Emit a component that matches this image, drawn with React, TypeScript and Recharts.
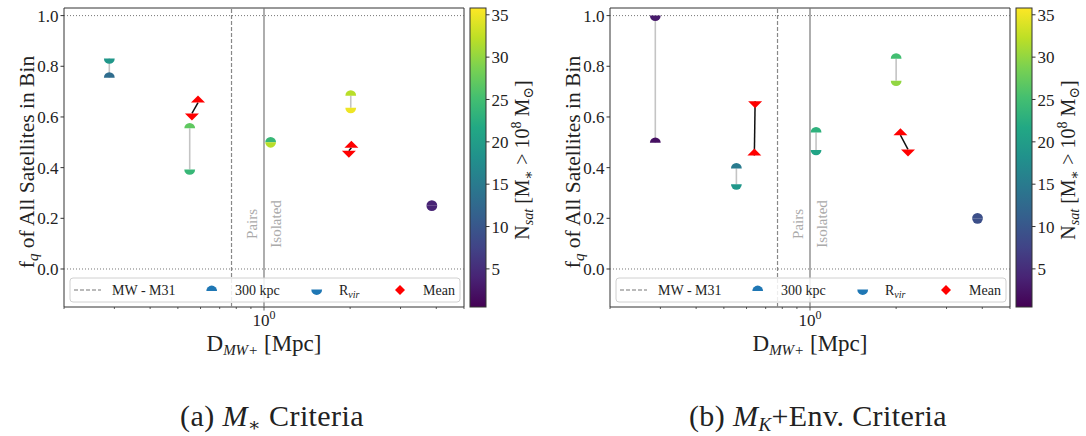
import React from 'react'
import {
  ScatterChart,
  Scatter,
  XAxis,
  YAxis,
  ReferenceLine,
  ReferenceArea,
  ReferenceDot,
} from 'recharts'

const FONT = '"Liberation Serif", "DejaVu Serif", serif'
const INK = '#222'

// (a) M* criteria: distance bins [Mpc] and quenched fractions per aperture
const distA = [0.288, 0.55, 1.055, 2.01, 3.86]
const fq300A = [0.755, 0.555, 0.5, 0.684, 0.25]
const nsat300A = [13, 27, 24, 32, 4]
const fqRvirA = [0.831, 0.393, 0.5, 0.636, 0.25]
const nsatRvirA = [19, 24, 32, 35, 4]
const meanDist300A = [0.588, 2.02]
const meanFq300A = [0.657, 0.478]
const meanDistRvirA = [0.56, 1.98]
const meanFqRvirA = [0.614, 0.467]

// (b) M_K + environment criteria
const distB = [0.288, 0.553, 1.05, 2.0, 3.85]
const fq300B = [0.498, 0.397, 0.539, 0.83, 0.2]
const nsat300B = [2, 15, 23, 25, 9]
const fqRvirB = [1.0, 0.334, 0.47, 0.743, 0.2]
const nsatRvirB = [3, 19, 21, 30, 9]
const meanDist300B = [0.639, 2.07]
const meanFq300B = [0.448, 0.528]
const meanDistRvirB = [0.643, 2.2]
const meanFqRvirB = [0.662, 0.472]

const MW_M31 = 0.77
const X_TICKS = [0.2, 0.3, 0.4, 0.5, 0.6, 0.7, 0.8, 0.9, 1, 2, 3, 4, 5]
const Y_TICKS = [0, 0.2, 0.4, 0.6, 0.8, 1.0]
const CBAR_TICKS = [5, 10, 15, 20, 25, 30, 35]
const N_MIN = 0.5
const N_MAX = 35.8

const VIRIDIS = [
  '#440154', '#482475', '#414487', '#355f8d', '#2a788e', '#21918c',
  '#22a884', '#44bf70', '#7ad151', '#bddf26', '#fde725',
]

function viridis(n: number) {
  const t = Math.min(1, Math.max(0, (n - N_MIN) / (N_MAX - N_MIN))) * 10
  const i = Math.min(9, Math.floor(t))
  const f = t - i
  const a = VIRIDIS[i]
  const b = VIRIDIS[i + 1]
  const ch = (h: string, k: number) => parseInt(h.slice(1 + 2 * k, 3 + 2 * k), 16)
  const mix = [0, 1, 2].map((k) => Math.round(ch(a, k) + (ch(b, k) - ch(a, k)) * f))
  return `rgb(${mix.join(',')})`
}

const R = 5.4
const D = 7

// filled top half of a circle (300 kpc)
const Dome = (p: any) => (
  <path
    d={`M${p.cx - R},${p.cy} A${R},${R} 0 0 1 ${p.cx + R},${p.cy} Z`}
    fill={p.fill ?? viridis(p.payload.n)}
  />
)

// filled bottom half of a circle (R_vir)
const Bowl = (p: any) => (
  <path
    d={`M${p.cx - R},${p.cy} A${R},${R} 0 0 0 ${p.cx + R},${p.cy} Z`}
    fill={p.fill ?? viridis(p.payload.n)}
  />
)

const HalfDiamondUp = (p: any) => (
  <path d={`M${p.cx - D},${p.cy} L${p.cx},${p.cy - D} L${p.cx + D},${p.cy} Z`} fill="#ff0000" />
)

const HalfDiamondDown = (p: any) => (
  <path d={`M${p.cx - D},${p.cy} L${p.cx},${p.cy + D} L${p.cx + D},${p.cy} Z`} fill="#ff0000" />
)

const LogTick = (p: any) => {
  const major = p.payload.value === 1
  return (
    <g>
      <line x1={p.x} x2={p.x} y1={p.y} y2={p.y + (major ? 3.5 : 2)} stroke="#333" strokeWidth={0.8} />
      {major && (
        <text x={p.x} y={p.y + 19} textAnchor="middle" fontSize={17} fill={INK} fontFamily={FONT}>
          10
          <tspan dy={-7} fontSize={12}>0</tspan>
        </text>
      )}
    </g>
  )
}

const RegionLabels = (p: any) => (
  <g fill="#aaa" fontSize={15} fontFamily={FONT}>
    <text x={p.cx - 7} y={p.cy} textAnchor="middle" transform={`rotate(-90 ${p.cx - 7} ${p.cy})`}>
      Pairs
    </text>
    <text x={p.cx + 17} y={p.cy} textAnchor="middle" transform={`rotate(-90 ${p.cx + 17} ${p.cy})`}>
      Isolated
    </text>
  </g>
)

const zip = (xs: number[], ys: number[], ns?: number[]) =>
  xs.map((x, i) => ({ x, y: ys[i], n: ns ? ns[i] : 0 }))

interface PanelProps {
  left: number
  dist: number[]
  fq300: number[]
  nsat300: number[]
  fqRvir: number[]
  nsatRvir: number[]
  meanDist300: number[]
  meanFq300: number[]
  meanDistRvir: number[]
  meanFqRvir: number[]
}

function FractionPanel(props: PanelProps) {
  const { left, dist, fq300, nsat300, fqRvir, nsatRvir } = props
  const pts300 = zip(dist, fq300, nsat300)
  const ptsRvir = zip(dist, fqRvir, nsatRvir)
  const mean300 = zip(props.meanDist300, props.meanFq300)
  const meanRvir = zip(props.meanDistRvir, props.meanFqRvir)

  return (
    <>
      <div style={{ position: 'absolute', left, top: 0 }}>
        <ScatterChart width={470} height={360} margin={{ top: 8, right: 6, bottom: 0, left: 0 }}>
          <XAxis
            type="number"
            dataKey="x"
            scale="log"
            domain={[0.2, 5]}
            allowDataOverflow
            ticks={X_TICKS}
            interval={0}
            tickSize={0}
            tickMargin={0}
            tickLine={false}
            axisLine={false}
            tick={<LogTick />}
            height={53}
          />
          <YAxis
            type="number"
            dataKey="y"
            domain={[-0.15, 1.03]}
            allowDataOverflow
            ticks={Y_TICKS}
            interval={0}
            tickFormatter={(v: number) => v.toFixed(1)}
            tickSize={3.5}
            tickMargin={2}
            width={64}
            axisLine={false}
            tickLine={{ stroke: '#333' }}
            tick={{ fontSize: 17, fill: INK, fontFamily: FONT }}
          />
          <ReferenceLine y={1} stroke="#666" strokeWidth={0.9} strokeDasharray="1 2" />
          <ReferenceLine y={0} stroke="#666" strokeWidth={0.9} strokeDasharray="1 2" />
          <ReferenceLine x={MW_M31} stroke="#888" strokeWidth={1.2} strokeDasharray="4 2" />
          <ReferenceLine x={1} stroke="#777" strokeWidth={1.2} />
          <ReferenceDot x={1} y={0.178} r={0} shape={RegionLabels} />
          {dist.map((x, i) => (
            <ReferenceLine
              key={`p${i}`}
              segment={[{ x, y: fq300[i] }, { x, y: fqRvir[i] }]}
              stroke="#c4c4c4"
              strokeWidth={1.6}
            />
          ))}
          {mean300.map((m, i) => (
            <ReferenceLine
              key={`m${i}`}
              segment={[{ x: m.x, y: m.y }, { x: meanRvir[i].x, y: meanRvir[i].y }]}
              stroke="#111"
              strokeWidth={1.5}
            />
          ))}
          <Scatter data={pts300} shape={Dome} isAnimationActive={false} />
          <Scatter data={ptsRvir} shape={Bowl} isAnimationActive={false} />
          <Scatter data={mean300} shape={HalfDiamondUp} isAnimationActive={false} />
          <Scatter data={meanRvir} shape={HalfDiamondDown} isAnimationActive={false} />
          <ReferenceArea x1={0.2} x2={5} y1={-0.15} y2={1.03} fill="none" stroke="#333" strokeWidth={1} />
        </ScatterChart>
      </div>

      {/* colour bar axis: N_sat ticks */}
      <div style={{ position: 'absolute', left: left + 470, top: 0 }}>
        <ScatterChart width={60} height={360} margin={{ top: 8, right: 0, bottom: 53, left: 0 }}>
          <XAxis type="number" dataKey="x" domain={[0, 1]} hide />
          <YAxis
            type="number"
            dataKey="y"
            orientation="right"
            domain={[N_MIN, N_MAX]}
            allowDataOverflow
            ticks={CBAR_TICKS}
            interval={0}
            tickSize={3.5}
            tickMargin={2}
            width={44}
            axisLine={false}
            tickLine={{ stroke: '#333' }}
            tick={{ fontSize: 17, fill: INK, fontFamily: FONT, textAnchor: 'start' }}
          />
        </ScatterChart>
      </div>
    </>
  )
}

function PanelText({ ox, caption }: { ox: number; caption: React.ReactNode }) {
  return (
    <g fontFamily={FONT} fill={INK}>
      {/* colour bar strip */}
      <rect x={ox + 470} y={8} width={16} height={299} fill="url(#viridis)" stroke="#333" strokeWidth={1} />

      <text x={ox + 33.5} y={162} fontSize={21.5} textAnchor="middle" transform={`rotate(-90 ${ox + 33.5} 162)`}>
        f<tspan dy={4} fontSize={15} fontStyle="italic">q</tspan>
        <tspan dy={-4}> of All Satellites in Bin</tspan>
      </text>
      <text x={ox + 264} y={351} fontSize={23} textAnchor="middle">
        D<tspan dy={4} fontSize={15} fontStyle="italic">MW+</tspan>
        <tspan dy={-4}> [Mpc]</tspan>
      </text>
      <text x={ox + 529} y={160} fontSize={20} textAnchor="middle" transform={`rotate(-90 ${ox + 529} 160)`}>
        N<tspan dy={4} fontSize={14} fontStyle="italic">sat</tspan>
        <tspan dy={-4}> [M</tspan>
        <tspan dy={4} fontSize={14}>∗</tspan>
        <tspan dy={-4}> &gt; 10</tspan>
        <tspan dy={-8} fontSize={14}>8</tspan>
        <tspan dy={8}> M</tspan>
        <tspan dy={4} fontSize={14}>⊙</tspan>
        <tspan dy={-4}>]</tspan>
      </text>

      {/* legend */}
      <g fontSize={14}>
        <rect x={ox + 70} y={278} width={390} height={24} rx={3} fill="#fff" fillOpacity={0.85} stroke="#d0d0d0" />
        <line x1={ox + 74} x2={ox + 101} y1={290} y2={290} stroke="#777" strokeWidth={1.2} strokeDasharray="4 2" />
        <text x={ox + 112} y={294.5}>MW - M31</text>
        <Dome cx={ox + 211.7} cy={291} fill="#1f77b4" />
        <text x={ox + 235} y={294.5}>300 kpc</text>
        <Bowl cx={ox + 316.7} cy={289.5} fill="#1f77b4" />
        <text x={ox + 339} y={294.5}>
          R<tspan dy={3} fontSize={10} fontStyle="italic">vir</tspan>
        </text>
        <path
          d={`M${ox + 395},290 L${ox + 400},285 L${ox + 405},290 L${ox + 400},295 Z`}
          fill="#ff0000"
        />
        <text x={ox + 423} y={294.5}>Mean</text>
      </g>

      <text x={ox + 272} y={426} fontSize={30} textAnchor="middle" letterSpacing={0.4}>
        {caption}
      </text>
    </g>
  )
}

export default function App() {
  return (
    <div
      style={{
        position: 'absolute',
        left: 0,
        top: 0,
        width: 1086,
        height: 436,
        background: '#fff',
        fontFamily: FONT,
      }}
    >
      <FractionPanel
        left={0}
        dist={distA}
        fq300={fq300A}
        nsat300={nsat300A}
        fqRvir={fqRvirA}
        nsatRvir={nsatRvirA}
        meanDist300={meanDist300A}
        meanFq300={meanFq300A}
        meanDistRvir={meanDistRvirA}
        meanFqRvir={meanFqRvirA}
      />
      <FractionPanel
        left={546}
        dist={distB}
        fq300={fq300B}
        nsat300={nsat300B}
        fqRvir={fqRvirB}
        nsatRvir={nsatRvirB}
        meanDist300={meanDist300B}
        meanFq300={meanFq300B}
        meanDistRvir={meanDistRvirB}
        meanFqRvir={meanFqRvirB}
      />
      <svg
        width={1086}
        height={436}
        style={{ position: 'absolute', left: 0, top: 0, pointerEvents: 'none' }}
      >
        <defs>
          <linearGradient id="viridis" x1="0" y1="1" x2="0" y2="0">
            {VIRIDIS.map((c, i) => (
              <stop key={c} offset={`${i * 10}%`} stopColor={c} />
            ))}
          </linearGradient>
        </defs>
        <PanelText
          ox={0}
          caption={
            <>
              (a) <tspan fontStyle="italic">M</tspan>
              <tspan dy={5} fontSize={19}>∗</tspan>
              <tspan dy={-5}> Criteria</tspan>
            </>
          }
        />
        <PanelText
          ox={546}
          caption={
            <>
              (b) <tspan fontStyle="italic">M</tspan>
              <tspan dy={5} fontSize={19} fontStyle="italic">K</tspan>
              <tspan dy={-5}>+Env. Criteria</tspan>
            </>
          }
        />
      </svg>
    </div>
  )
}
